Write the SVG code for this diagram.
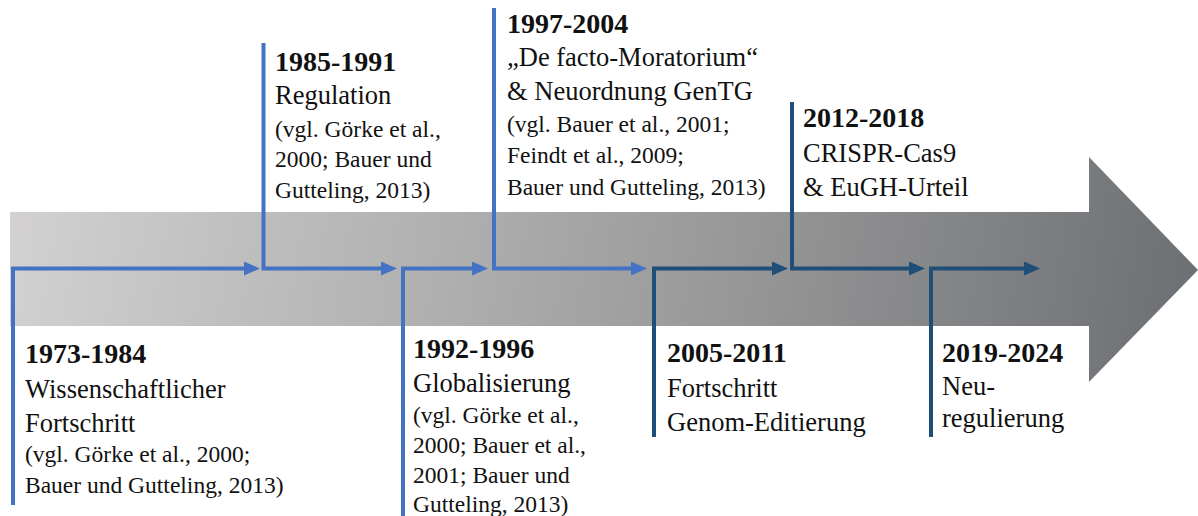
<svg xmlns="http://www.w3.org/2000/svg" width="1198" height="516" viewBox="0 0 1198 516">
<style>
.t{font-family:"Liberation Serif","Times New Roman",serif;fill:#111;}
.y{font-weight:bold;font-size:28px;}
.m{font-size:26.5px;}
.c{font-size:23.5px;}
.lb{fill:none;stroke:#4472c4;stroke-width:4;stroke-linejoin:miter;}
.db{fill:none;stroke:#1f4e79;stroke-width:4;stroke-linejoin:miter;}
</style>
<defs>
<linearGradient id="g" gradientUnits="userSpaceOnUse" x1="10" y1="180" x2="1198" y2="370">
<stop offset="0" stop-color="#d3d1d1"/>
<stop offset="0.35" stop-color="#b1b1b1"/>
<stop offset="0.65" stop-color="#939394"/>
<stop offset="1" stop-color="#6b6e72"/>
</linearGradient>
<marker id="ab" markerUnits="userSpaceOnUse" markerWidth="16" markerHeight="14" refX="2" refY="7" orient="auto"><path d="M0,0 L16,7 L0,14 z" fill="#4472c4"/></marker>
<marker id="ad" markerUnits="userSpaceOnUse" markerWidth="16" markerHeight="14" refX="2" refY="7" orient="auto"><path d="M0,0 L16,7 L0,14 z" fill="#1f4e79"/></marker>
</defs>
<polygon id="timeline" points="10,212 1089,212 1089,157 1198,270 1089,382 1089,326 10,326" fill="url(#g)"/>
<g id="connectors">
<path class="lb" d="M13,505 V268.5 H246" marker-end="url(#ab)"/>
<path class="lb" d="M263.5,43 V268.5 H383" marker-end="url(#ab)"/>
<path class="lb" d="M403,516 V268.5 H474" marker-end="url(#ab)"/>
<path class="lb" d="M494,8 V268.5 H633" marker-end="url(#ab)"/>
<path class="db" d="M654,437 V268.5 H774" marker-end="url(#ad)"/>
<path class="db" d="M792,102 V268.5 H911" marker-end="url(#ad)"/>
<path class="db" d="M931,437 V268.5 H1026" marker-end="url(#ad)"/>
</g>
<g id="n1" class="t">
<text class="y" x="25" y="363">1973-1984</text>
<text class="m" x="25" y="398">Wissenschaftlicher</text>
<text class="m" x="25" y="432">Fortschritt</text>
<text class="c" x="25" y="462">(vgl. Görke et al., 2000;</text>
<text class="c" x="25" y="493">Bauer und Gutteling, 2013)</text>
</g>
<g id="n2" class="t">
<text class="y" x="275" y="71">1985-1991</text>
<text class="m" x="275" y="104">Regulation</text>
<text class="c" x="275" y="137">(vgl. Görke et al.,</text>
<text class="c" x="275" y="167">2000; Bauer und</text>
<text class="c" x="275" y="198">Gutteling, 2013)</text>
</g>
<g id="n3" class="t">
<text class="y" x="413" y="358">1992-1996</text>
<text class="m" x="413" y="392">Globalisierung</text>
<text class="c" x="413" y="423">(vgl. Görke et al.,</text>
<text class="c" x="413" y="453">2000; Bauer et al.,</text>
<text class="c" x="413" y="483">2001; Bauer und</text>
<text class="c" x="413" y="512">Gutteling, 2013)</text>
</g>
<g id="n4" class="t">
<text class="y" x="507" y="33">1997-2004</text>
<text class="m" x="507" y="66">„De facto-Moratorium“</text>
<text class="m" x="507" y="100">&amp; Neuordnung GenTG</text>
<text class="c" x="507" y="132">(vgl. Bauer et al., 2001;</text>
<text class="c" x="507" y="163">Feindt et al., 2009;</text>
<text class="c" x="507" y="195">Bauer und Gutteling, 2013)</text>
</g>
<g id="n5" class="t">
<text class="y" x="667" y="362">2005-2011</text>
<text class="m" x="667" y="397">Fortschritt</text>
<text class="m" x="667" y="431">Genom-Editierung</text>
</g>
<g id="n6" class="t">
<text class="y" x="803" y="127">2012-2018</text>
<text class="m" x="803" y="162">CRISPR-Cas9</text>
<text class="m" x="803" y="196">&amp; EuGH-Urteil</text>
</g>
<g id="n7" class="t">
<text class="y" x="942" y="362">2019-2024</text>
<text class="m" x="942" y="395">Neu-</text>
<text class="m" x="942" y="427">regulierung</text>
</g>
</svg>
